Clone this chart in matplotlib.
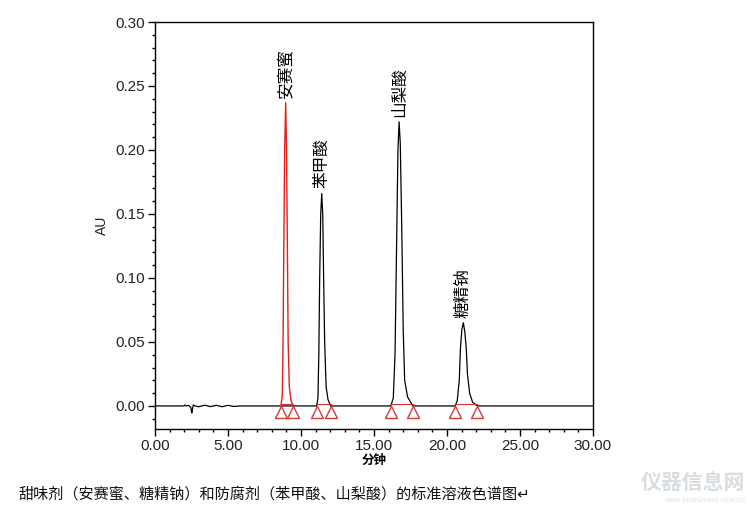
import matplotlib
matplotlib.use("Agg")
import matplotlib.pyplot as plt
from matplotlib.ticker import MultipleLocator, FormatStrFormatter

plt.rcParams['font.family'] = ['Liberation Sans', 'Noto Sans CJK SC', 'DejaVu Sans']

# ---- data (time in minutes, absorbance in AU) ----
# baseline + noise region
base_t = [0.00, 2.00, 2.05, 2.15, 2.30, 2.45, 2.52, 2.56, 2.62, 2.75, 3.00, 3.40, 3.80, 4.20, 4.60, 5.00, 5.40, 5.78, 6.00, 8.60]
base_au = [0.000, 0.000, 0.0008, 0.000, 0.0005, -0.001, -0.0055, -0.003, 0.0008, 0.000, -0.0006, 0.0006, -0.0005, 0.0005, -0.0006, 0.0005, -0.0004, 0.000, 0.000, 0.000]

# 安赛蜜 (red peak)
ace_t = [8.62, 8.72, 8.77, 8.82, 8.88, 8.95, 9.01, 9.07, 9.12, 9.20, 9.32, 9.47]
ace_au = [0.000, 0.008, 0.050, 0.120, 0.200, 0.237, 0.200, 0.120, 0.050, 0.015, 0.004, 0.000]

# 苯甲酸
ben_t = [9.47, 11.07, 11.16, 11.22, 11.28, 11.35, 11.42, 11.49, 11.55, 11.62, 11.72, 11.85, 12.03]
ben_au = [0.000, 0.000, 0.006, 0.040, 0.100, 0.150, 0.166, 0.150, 0.100, 0.050, 0.015, 0.005, 0.000]

# 山梨酸
sor_t = [12.03, 16.15, 16.32, 16.44, 16.54, 16.64, 16.72, 16.80, 16.90, 17.00, 17.10, 17.30, 17.66]
sor_au = [0.000, 0.000, 0.006, 0.040, 0.120, 0.200, 0.222, 0.205, 0.140, 0.060, 0.020, 0.007, 0.000]

# 糖精钠
sac_t = [17.66, 20.55, 20.70, 20.84, 20.92, 21.02, 21.12, 21.22, 21.32, 21.40, 21.55, 21.75, 22.08, 30.00]
sac_au = [0.000, 0.000, 0.004, 0.020, 0.045, 0.060, 0.065, 0.058, 0.045, 0.025, 0.010, 0.003, 0.000, 0.000]

peak_names = ['安赛蜜', '苯甲酸', '山梨酸', '糖精钠']
peak_rt = [8.95, 11.42, 16.72, 21.12]
peak_h = [0.237, 0.166, 0.222, 0.065]

# integration start/end marks
mark_start = [8.61, 11.07, 16.15, 20.55]
mark_end = [9.47, 12.03, 17.66, 22.08]

xticks = [0, 5, 10, 15, 20, 25, 30]
yticks = [0.00, 0.05, 0.10, 0.15, 0.20, 0.25, 0.30]

caption = '甜味剂（安赛蜜、糖精钠）和防腐剂（苯甲酸、山梨酸）的标准溶液色谱图↵'

# ---- figure ----
fig = plt.figure(figsize=(7.5, 5.12), dpi=100)
ax = fig.add_axes([155/750, 1-429/512, (593-155)/750, (429-22)/512])

black_t = base_t + ben_t + sor_t + sac_t
black_au = base_au + ben_au + sor_au + sac_au
ax.plot(black_t, black_au, color='black', lw=0.9)
ax.plot(ace_t, ace_au, color='#e0201c', lw=1.0)

# integration baselines and triangles
for s, e in zip(mark_start, mark_end):
    ax.plot([s, e], [0.0012, 0.0012], color='#e03030', lw=0.8)
ax.plot(mark_start + mark_end, [-0.0045]*8, linestyle='none', marker='^',
        markersize=9, mfc='none', mec='#d83838', mew=1.0)

# peak labels (read bottom-to-top)
for name, rt, h in zip(peak_names, peak_rt, peak_h):
    ax.text(rt, h + 0.004, name, rotation=90, ha='center', va='bottom',
            fontsize=12, family=['Noto Sans CJK SC', 'DejaVu Sans'], color='black')

ax.set_xlim(0, 30)
ax.set_ylim(-0.018, 0.30)
ax.set_xticks(xticks)
ax.set_yticks(yticks)
ax.xaxis.set_minor_locator(MultipleLocator(1))
ax.yaxis.set_minor_locator(MultipleLocator(0.01))
ax.xaxis.set_major_formatter(FormatStrFormatter('%.2f'))
ax.yaxis.set_major_formatter(FormatStrFormatter('%.2f'))
ax.tick_params(which='major', direction='out', length=5, width=1, labelsize=11, labelcolor='#222222', pad=2)
ax.tick_params(which='minor', direction='out', length=2.5, width=1)
for sp in ax.spines.values():
    sp.set_linewidth(1.0)

ax.set_xlabel('分钟', fontsize=9, fontweight='bold', family=['Noto Sans CJK SC', 'DejaVu Sans'], labelpad=1)
ax.set_ylabel('AU', fontsize=10, labelpad=5, color='#222222')

fig.text(18/750, 1-494/512, caption, fontsize=10.9, va='center', ha='left',
         family=['Noto Sans CJK SC', 'DejaVu Sans'], color='#111111')
fig.text(745/750, 1-483/512, '仪器信息网', fontsize=15, fontweight='bold', va='center', ha='right',
         family=['Noto Sans CJK SC', 'DejaVu Sans'], color='#d8dde2')
fig.text(745/750, 1-500/512, 'www.instrument.com.cn', fontsize=5.5, va='center', ha='right',
         color='#dde2e6')

fig.savefig('out.png', dpi=100, facecolor='white')
